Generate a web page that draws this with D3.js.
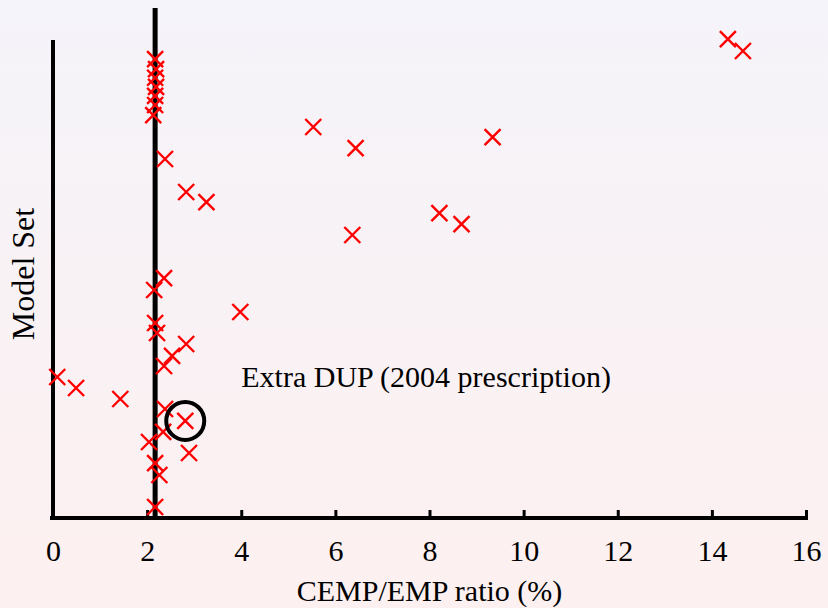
<!DOCTYPE html>
<html>
<head>
<meta charset="utf-8">
<script src="https://cdn.jsdelivr.net/npm/d3@7"></script>
<style>
  html, body { margin: 0; padding: 0; }
  svg { display: block; }
  text { font-family: "Liberation Serif", "Times New Roman", serif; fill: #000; }
</style>
</head>
<body>
<script>
// CEMP/EMP ratio (%) for each model set
const ratio = [
  14.34, 14.66,
  2.17, 2.19, 2.17, 2.19, 2.17, 2.17, 2.13,
  5.53, 9.34, 6.43, 2.38, 2.83, 3.26, 8.21, 8.68, 6.36,
  2.36, 2.15, 3.98, 2.17, 2.21, 2.83, 2.53, 2.36,
  0.09, 0.49, 1.43, 2.38, 2.81, 2.34, 2.04, 2.89, 2.17, 2.26, 2.17
];
// vertical position of each model set
const modelSet = [
  100.2, 97.7,
  96.0, 93.9, 92.1, 90.2, 88.3, 86.4, 84.3,
  81.8, 79.7, 77.4, 75.1, 68.2, 66.1, 63.8, 61.5, 59.2,
  50.2, 47.7, 43.1, 40.8, 38.7, 36.4, 33.9, 31.8,
  29.5, 27.2, 24.9, 22.8, 20.3, 18.0, 15.9, 13.6, 11.5, 9.0, 2.3
];
const xTicks = [0, 2, 4, 6, 8, 10, 12, 14, 16];
const referenceRatio = 2.17;   // vertical reference line
const highlighted = 30;        // index of the circled model set
const annotationText = "Extra DUP (2004 prescription)";
const annotationPos = [4.0, 27.4];

const W = 828, H = 608;
const svg = d3.select("body").append("svg").attr("width", W).attr("height", H);

const defs = svg.append("defs");
const grad = defs.append("linearGradient").attr("id", "bg").attr("x1", 0).attr("y1", 0).attr("x2", 0).attr("y2", 1);
grad.append("stop").attr("offset", "0%").attr("stop-color", "#f5f4fa");
grad.append("stop").attr("offset", "100%").attr("stop-color", "#fdf0f0");
svg.append("rect").attr("width", W).attr("height", H).attr("fill", "url(#bg)");

const x = d3.scaleLinear().domain([0, 16]).range([53, 806]);
const y = d3.scaleLinear().domain([0, 100]).range([518, 40]);
const yTop = y(106.7);

// left axis line
svg.append("line")
  .attr("x1", x(0)).attr("x2", x(0))
  .attr("y1", y(100)).attr("y2", y(0) + 2)
  .attr("stroke", "#000").attr("stroke-width", 4);

// reference ratio line
svg.append("line")
  .attr("x1", x(referenceRatio)).attr("x2", x(referenceRatio))
  .attr("y1", yTop).attr("y2", y(0))
  .attr("stroke", "#000").attr("stroke-width", 5);

// bottom axis with inward ticks
const xAxis = d3.axisBottom(x).tickValues(xTicks).tickSize(-8).tickPadding(22).tickSizeOuter(0);
const gx = svg.append("g").attr("transform", `translate(0,${y(0)})`).call(xAxis);
gx.select(".domain").attr("stroke", "#000").attr("stroke-width", 4)
  .attr("d", `M${x(0) - 3},0H${x(16) + 2}`);
gx.selectAll(".tick line").attr("stroke", "#000").attr("stroke-width", 3);
gx.selectAll(".tick text")
  .style("font-family", "'Liberation Serif', 'Times New Roman', serif")
  .style("font-size", "30px").attr("fill", "#000");

// axis titles
svg.append("text")
  .attr("x", (x(0) + x(16)) / 2).attr("y", 601)
  .attr("text-anchor", "middle").style("font-size", "30px")
  .text("CEMP/EMP ratio (%)");
svg.append("text")
  .attr("transform", `translate(34,${(y(0) + y(100)) / 2 - 5}) rotate(-90)`)
  .attr("text-anchor", "middle").style("font-size", "32px")
  .text("Model Set");

// cross markers
const s = 8;
const pts = ratio.map((r, i) => ({ r, m: modelSet[i] }));
svg.append("g").selectAll("path").data(pts).join("path")
  .attr("d", d => {
    const cx = x(d.r), cy = y(d.m);
    return `M${cx - s},${cy - s}L${cx + s},${cy + s}M${cx - s},${cy + s}L${cx + s},${cy - s}`;
  })
  .attr("stroke", "#ff0000").attr("stroke-width", 2.4).attr("fill", "none");

// highlight ring
svg.append("circle")
  .attr("cx", x(ratio[highlighted])).attr("cy", y(modelSet[highlighted]))
  .attr("r", 19).attr("fill", "none").attr("stroke", "#000").attr("stroke-width", 4);

// annotation
svg.append("text")
  .attr("x", x(annotationPos[0])).attr("y", y(annotationPos[1]))
  .style("font-size", "30px")
  .text(annotationText);
</script>
</body>
</html>
